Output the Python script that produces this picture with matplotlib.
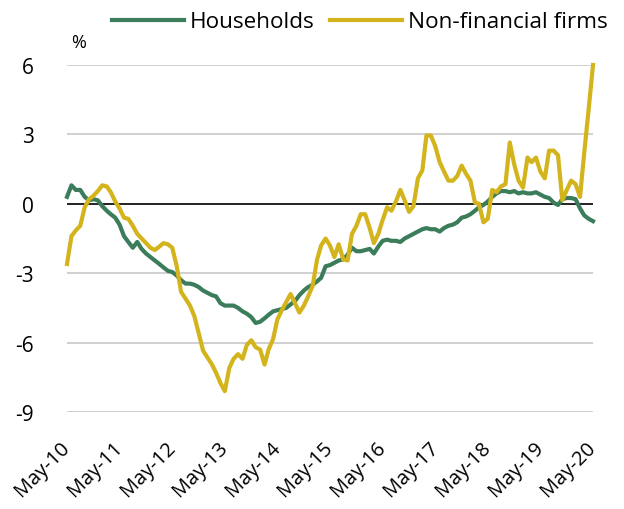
import matplotlib
matplotlib.use("Agg")
import matplotlib.pyplot as plt
import numpy as np
import pandas as pd

dates = pd.date_range("2010-05-01", "2020-05-01", freq="MS")

households = [
    0.3, 0.8, 0.6, 0.6, 0.3, 0.15, 0.2, 0.15, -0.1, -0.3,
    -0.45, -0.6, -0.9, -1.4, -1.65, -1.9, -1.65, -1.95, -2.15, -2.3,
    -2.45, -2.6, -2.75, -2.9, -2.95, -3.1, -3.3, -3.45, -3.45, -3.5,
    -3.6, -3.75, -3.85, -3.95, -4.0, -4.3, -4.4, -4.4, -4.4, -4.5,
    -4.65, -4.75, -4.9, -5.15, -5.1, -4.95, -4.8, -4.65, -4.6, -4.55,
    -4.5, -4.35, -4.2, -3.95, -3.75, -3.6, -3.5, -3.35, -3.2, -2.7,
    -2.65, -2.55, -2.45, -2.4, -2.2, -1.9, -2.05, -2.05, -2.0, -1.95,
    -2.15, -1.85, -1.6, -1.55, -1.6, -1.6, -1.65, -1.5, -1.4, -1.3,
    -1.2, -1.1, -1.05, -1.1, -1.1, -1.2, -1.05, -0.95, -0.9, -0.8,
    -0.6, -0.55, -0.45, -0.3, -0.15, -0.05, 0.1, 0.3, 0.45, 0.55,
    0.55, 0.5, 0.55, 0.45, 0.5, 0.45, 0.45, 0.5, 0.4, 0.3,
    0.25, 0.05, -0.05, 0.2, 0.25, 0.25, 0.2, -0.2, -0.5, -0.65,
    -0.75,
]

nonfinancial = [
    -2.6, -1.4, -1.15, -0.95, -0.15, 0.2, 0.35, 0.55, 0.8, 0.75,
    0.5, 0.1, -0.2, -0.6, -0.65, -0.95, -1.3, -1.5, -1.7, -1.9,
    -2.0, -1.85, -1.7, -1.75, -1.9, -2.7, -3.8, -4.1, -4.4, -4.85,
    -5.6, -6.35, -6.65, -6.95, -7.3, -7.75, -8.1, -7.1, -6.7, -6.5,
    -6.7, -6.1, -5.9, -6.2, -6.3, -6.95, -6.3, -5.85, -5.0, -4.6,
    -4.25, -3.9, -4.3, -4.7, -4.4, -4.0, -3.55, -2.4, -1.8, -1.5,
    -1.8, -2.3, -1.75, -2.4, -2.45, -1.3, -0.95, -0.45, -0.45, -1.05,
    -1.7, -1.3, -0.7, -0.15, -0.3, 0.1, 0.6, 0.15, -0.35, -0.1,
    1.1, 1.45, 2.95, 2.95, 2.5, 1.8, 1.4, 1.0, 1.0, 1.2,
    1.65, 1.3, 1.0, 0.05, 0.0, -0.8, -0.65, 0.6, 0.5, 0.75,
    0.85, 2.65, 1.7, 1.0, 0.7, 2.0, 1.8, 2.0, 1.4, 1.1,
    2.3, 2.3, 2.1, 0.15, 0.6, 1.0, 0.85, 0.3, 2.2, 4.1,
    6.0,
]

series_names = ["Households", "Non-financial firms"]
series_colors = ["#3b7d5b", "#d3b41c"]
y_ticks = [-9, -6, -3, 0, 3, 6]
x_tick_dates = pd.date_range("2010-05-01", "2020-05-01", freq="12MS")
x_tick_labels = [d.strftime("%b-%y") for d in x_tick_dates]

plt.rcParams["font.family"] = ["Open Sans", "DejaVu Sans"]

fig = plt.figure(figsize=(6.24, 5.10), dpi=100)
ax = fig.add_axes([67 / 624, 1 - 413 / 510, (593 - 67) / 624, (413 - 66) / 510])

for yt in y_ticks:
    if yt == 0:
        continue
    ax.axhline(yt, color="#c4c4c4", lw=1.1, zorder=1)
ax.axhline(0, color="#222222", lw=1.4, zorder=2)

ax.plot(dates, households, color=series_colors[0], lw=3.0, label=series_names[0],
        zorder=3, solid_joinstyle="round", clip_on=False)
ax.plot(dates, nonfinancial, color=series_colors[1], lw=3.0, label=series_names[1],
        zorder=4, solid_joinstyle="round", clip_on=False)

ax.set_xlim(dates[0], dates[-1])
ax.set_ylim(-9, 6)
ax.set_yticks(y_ticks)
ax.set_yticklabels([str(v) for v in y_ticks], fontsize=15)
ax.set_xticks(x_tick_dates)
ax.set_xticklabels(x_tick_labels, fontsize=14.5, rotation=45, ha="right",
                   rotation_mode="anchor", va="center")
ax.tick_params(axis="both", length=0)
ax.tick_params(axis="y", pad=24)
ax.tick_params(axis="x", pad=23)
for s in ax.spines.values():
    s.set_visible(False)

ax.text(71 / 624, 1 - 43 / 510, "%", transform=fig.transFigure, fontsize=13,
        ha="left", va="center")

fig.legend(loc="center left", bbox_to_anchor=(112 / 624, 1 - 23 / 510), ncol=2,
           frameon=False, fontsize=16.2, handlelength=3.2, handletextpad=0.25,
           columnspacing=0.7, borderaxespad=0, borderpad=0)

fig.savefig("out.png", dpi=100)
